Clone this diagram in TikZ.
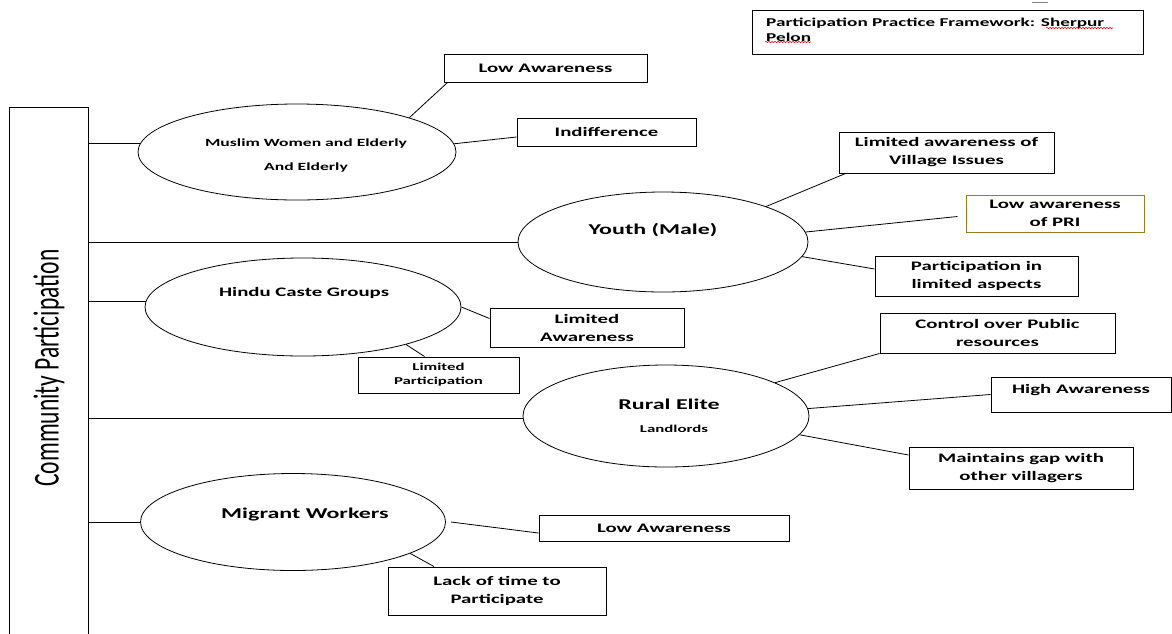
\documentclass[tikz,border=0pt]{standalone}
\usepackage{fontspec}
\setmainfont{Carlito}
\usepackage{graphicx}
\usetikzlibrary{shapes.geometric,decorations.pathmorphing}
\newcommand{\wide}[1]{\scalebox{1.6}[1]{#1}}
\begin{document}
\begin{tikzpicture}[x=1pt,y=-1pt,
    box/.style={draw, line width=1pt, inner sep=0pt, align=center,
        font=\fontsize{13}{18}\selectfont\bfseries},
    group/.style={draw, ellipse, line width=0.8pt, inner sep=0pt},
    link/.style={line width=0.8pt},
    squiggle/.style={red, line width=0.6pt, decorate, decoration={snake, amplitude=0.7pt, segment length=3pt}}]
    \clip (0,0) rectangle (1172,633);
    % title
    \node[draw, line width=1pt, minimum width=391pt, minimum height=44pt, inner sep=0pt] (title) at (947.5,32) {};
    \node[anchor=west, inner sep=0pt, align=left, font=\fontsize{12}{15}\selectfont\bfseries] (titletxt) at (766,29.5)
        {\wide{Participation Practice Framework: Sherpur}\\\wide{Pelon}};
    \draw[squiggle] (1046,28)--(1113,28);
    \draw[squiggle] (765,42)--(811,42);
    \draw[gray, line width=1pt] (1032,2)--(1048,2);
    % left bar
    \node[draw, line width=1pt, minimum width=79pt, minimum height=540pt, inner sep=0pt] (comm) at (48.5,377) {};
    \node[rotate=90, inner sep=0pt, font=\fontsize{23.5}{23.5}\selectfont] (commtxt) at (49,368)
        {\scalebox{1}[1.55]{Community Participation}};
    % groups
    \node[group, minimum width=318pt, minimum height=96pt] (muslim) at (297,152) {};
    \node[group, minimum width=290pt, minimum height=100pt] (youth) at (663,242) {};
    \node[group, minimum width=316pt, minimum height=98pt] (hindu) at (303,307) {};
    \node[group, minimum width=286pt, minimum height=102pt] (rural) at (666,416) {};
    \node[group, minimum width=305pt, minimum height=97pt] (migrant) at (293,522) {};
    \node[align=center, font=\fontsize{11}{24}\selectfont\bfseries] (muslimtxt) at (306,155)
        {\wide{Muslim Women and Elderly}\\\wide{And Elderly}};
    \node[font=\fontsize{15}{15}\selectfont\bfseries] (youthtxt) at (653,230) {\wide{Youth (Male)}};
    \node[font=\fontsize{13}{13}\selectfont\bfseries] (hindutxt) at (304,293) {\wide{Hindu Caste Groups}};
    \node[font=\fontsize{15}{15}\selectfont\bfseries] (ruraltxt) at (669,404) {\wide{Rural Elite}};
    \node[font=\fontsize{10.5}{10.5}\selectfont\bfseries] (landtxt) at (674,429) {\wide{Landlords}};
    \node[font=\fontsize{15}{15}\selectfont\bfseries] (migranttxt) at (305,514) {\wide{Migrant Workers}};
    % boxes
    \node[box, minimum width=203pt, minimum height=28pt] (lowawA) at (545.5,68) {\wide{Low Awareness}};
    \node[box, minimum width=179pt, minimum height=28pt] (indiff) at (606.5,132) {\wide{Indifference}};
    \node[box, minimum width=215pt, minimum height=41pt] (village) at (946.5,152.5) {\wide{Limited awareness of}\\\wide{Village Issues}};
    \node[box, draw={rgb,255:red,160;green,122;blue,30}, minimum width=178pt, minimum height=37pt] (pri) at (1055,213.5) {\wide{Low awareness}\\\wide{of PRI}};
    \node[box, minimum width=203pt, minimum height=40pt] (partic) at (976.5,276) {\wide{Participation in}\\\wide{limited aspects}};
    \node[box, minimum width=194pt, minimum height=39pt] (limaw) at (587,327.5) {\wide{Limited}\\\wide{Awareness}};
    \node[box, minimum width=161pt, minimum height=36pt, font=\fontsize{10.5}{14}\selectfont\bfseries] (limpart) at (438.5,375) {\wide{Limited}\\\wide{Participation}};
    \node[box, minimum width=235pt, minimum height=40pt] (control) at (997.5,333) {\wide{Control over Public}\\\wide{resources}};
    \node[box, minimum width=180pt, minimum height=35pt, text depth=12pt] (highaw) at (1081,394.5) {\wide{High Awareness}};
    \node[box, minimum width=224pt, minimum height=42pt] (maintain) at (1021,468) {\wide{Maintains gap with}\\\wide{other villagers}};
    \node[box, minimum width=250pt, minimum height=26pt] (lowawB) at (664,528) {\wide{Low Awareness}};
    \node[box, minimum width=218pt, minimum height=48pt] (lack) at (497,591) {\wide{Lack of time to}\\\wide{Participate}};
    % bar to groups
    \draw[link] (comm.east |- muslim.177) -- (muslim.177);
    \draw[link] (comm.east |- youth.west) -- (youth.west);
    \draw[link] (comm.east |- hindu.178) -- (hindu.178);
    \draw[link] (comm.east |- rural.181) -- (rural.181);
    \draw[link] (comm.east |- migrant.west) -- (migrant.west);
    % groups to boxes
    \draw[link] (muslim.17) -- ([xshift=4pt]lowawA.south west);
    \draw[link] (muslim.3) -- ([yshift=-5pt]indiff.west);
    \draw[link] (youth.19) -- ([xshift=7pt]village.south west);
    \draw[link] (youth.4) -- ([xshift=-8pt,yshift=-3pt]pri.west);
    \draw[link] (youth.-6) -- ([yshift=7pt]partic.west);
    \draw[link] (hindu.east) -- ([yshift=9pt]limaw.west);
    \draw[link] (hindu.-20) -- ([xshift=-14pt]limpart.north);
    \draw[link] (rural.17) -- (control.south west);
    \draw[link] (rural.3) -- (highaw.west);
    \draw[link] (rural.-8) -- ([yshift=13pt]maintain.west);
    \draw[link] ([xshift=5pt]migrant.east) -- ([yshift=-5pt]lowawB.west);
    \draw[link] (migrant.-15) -- ([xshift=-63pt]lack.north);
\end{tikzpicture}
\end{document}
